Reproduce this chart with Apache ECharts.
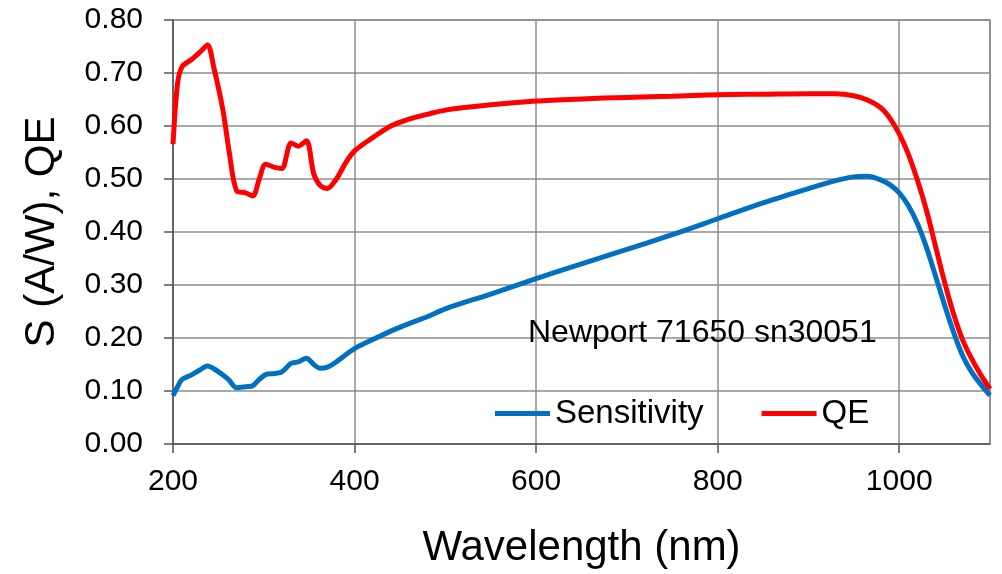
<!DOCTYPE html>
<html>
<head>
<meta charset="utf-8">
<script src="https://cdn.jsdelivr.net/npm/echarts@6/dist/echarts.min.js"></script>
<style>
  html, body { margin: 0; padding: 0; background: #fff; }
  #main { width: 1002px; height: 574px; }
</style>
</head>
<body>
<div id="main"></div>
<script>
// wavelength (nm)
var wavelength = [200, 205, 210, 220, 230, 238, 245, 255, 262, 270, 280, 288, 295, 302, 312, 320,
  330, 338, 347, 355, 362, 370, 380, 390, 400, 420, 440, 460, 480, 500, 550, 600, 650, 700, 750,
  800, 850, 900, 930, 950, 965, 980, 990, 1000, 1010, 1020, 1030, 1040, 1050, 1060, 1070, 1080,
  1090, 1100];

// S (A/W)
var sensitivity = [0.091, 0.108, 0.122, 0.130, 0.140, 0.147, 0.142, 0.130, 0.120, 0.106, 0.108,
  0.110, 0.122, 0.131, 0.133, 0.136, 0.152, 0.155, 0.162, 0.150, 0.143, 0.145, 0.155, 0.168, 0.180,
  0.197, 0.213, 0.227, 0.240, 0.255, 0.283, 0.312, 0.340, 0.367, 0.395, 0.425, 0.455, 0.482, 0.497,
  0.504, 0.505, 0.498, 0.489, 0.474, 0.450, 0.416, 0.371, 0.317, 0.262, 0.210, 0.166, 0.135, 0.112,
  0.092];

// QE
var qe = [0.566, 0.680, 0.712, 0.725, 0.740, 0.753, 0.710, 0.630, 0.550, 0.478, 0.474, 0.468,
  0.500, 0.528, 0.522, 0.520, 0.568, 0.562, 0.572, 0.510, 0.488, 0.482, 0.500, 0.530, 0.553, 0.578,
  0.600, 0.613, 0.622, 0.630, 0.640, 0.647, 0.651, 0.654, 0.656, 0.659, 0.660, 0.661, 0.661, 0.657,
  0.649, 0.634, 0.614, 0.585, 0.547, 0.498, 0.441, 0.373, 0.305, 0.245, 0.196, 0.160, 0.130, 0.104];

var xTicks = [200, 400, 600, 800, 1000];
var yTicks = [0.0, 0.1, 0.2, 0.3, 0.4, 0.5, 0.6, 0.7, 0.8];
var note = 'Newport 71650 sn30051';

var FONT = '"Liberation Sans", Arial, sans-serif';

function pairs(xs, ys) {
  return xs.map(function (x, i) { return [x, ys[i]]; });
}

var chart = echarts.init(document.getElementById('main'), null, { renderer: 'canvas' });

var option = {
  backgroundColor: '#ffffff',
  animation: false,
  grid: {
    left: 173, right: 12, top: 20, bottom: 127,
    show: true, borderColor: '#8c8c8c', borderWidth: 1.5
  },
  legend: {
    left: 490, top: 392,
    icon: 'rect', itemWidth: 55, itemHeight: 5, itemGap: 58,
    textStyle: { fontFamily: FONT, fontSize: 33, color: '#000' },
    data: ['Sensitivity', 'QE']
  },
  xAxis: {
    type: 'value',
    min: xTicks[0], max: 1100, interval: 200,
    name: 'Wavelength (nm)', nameLocation: 'middle', nameGap: 83,
    nameTextStyle: { fontFamily: FONT, fontSize: 42, color: '#000' },
    axisLine: { lineStyle: { color: '#555', width: 1.5 } },
    axisTick: { show: true, length: 9, lineStyle: { color: '#555', width: 1.5 } },
    axisLabel: {
      fontFamily: FONT, fontSize: 30, color: '#000', margin: 23, showMaxLabel: false,
      formatter: function (v) { return String(v); }
    },
    splitLine: { show: true, lineStyle: { color: '#8c8c8c', width: 1.5 } }
  },
  yAxis: {
    type: 'value',
    min: yTicks[0], max: yTicks[yTicks.length - 1], interval: 0.1,
    name: 'S (A/W), QE', nameLocation: 'middle', nameGap: 110,
    nameTextStyle: { fontFamily: FONT, fontSize: 42, color: '#000' },
    axisLine: { show: true, lineStyle: { color: '#555', width: 1.5 } },
    axisTick: { show: true, length: 9, lineStyle: { color: '#555', width: 1.5 } },
    axisLabel: {
      fontFamily: FONT, fontSize: 30, color: '#000', margin: 30,
      formatter: function (v) { return v.toFixed(2); }
    },
    splitLine: { show: true, lineStyle: { color: '#8c8c8c', width: 1.5 } }
  },
  graphic: [{
    type: 'text', left: 528, top: 317, z: 10,
    style: { text: note, font: '32px ' + FONT, fill: '#000' }
  }],
  series: [
    {
      name: 'Sensitivity', type: 'line', data: pairs(wavelength, sensitivity),
      smooth: 0.3, showSymbol: false, symbol: 'none',
      lineStyle: { color: '#0070C0', width: 5 }, itemStyle: { color: '#0070C0' }
    },
    {
      name: 'QE', type: 'line', data: pairs(wavelength, qe),
      smooth: 0.3, showSymbol: false, symbol: 'none',
      lineStyle: { color: '#FF0000', width: 5 }, itemStyle: { color: '#FF0000' }
    }
  ]
};

chart.setOption(option);
</script>
</body>
</html>
